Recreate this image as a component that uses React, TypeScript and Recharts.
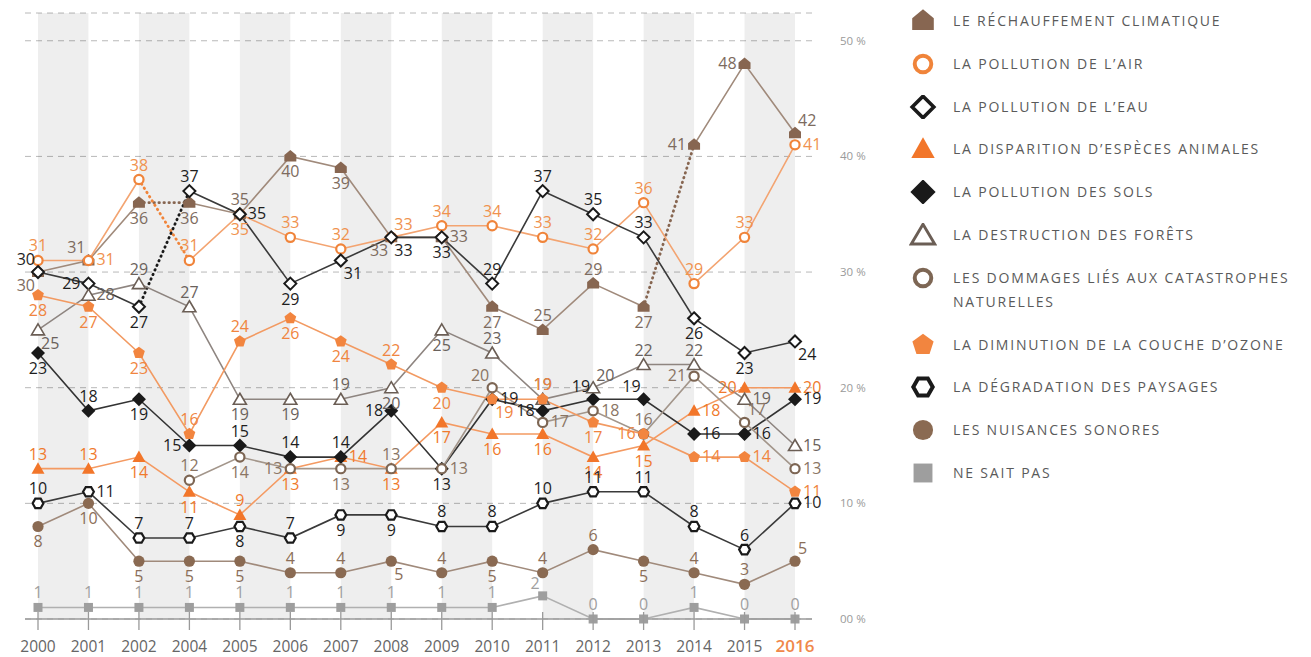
import React from "react";
import { LineChart, Line, XAxis, YAxis, CartesianGrid, ReferenceArea } from "recharts";

// Survey years (2003 missing from the series)
const years = ["2000", "2001", "2002", "2004", "2005", "2006", "2007", "2008", "2009", "2010", "2011", "2012", "2013", "2014", "2015", "2016"];

// Share of answers, in %
const rechauffement = [30, 31, 36, 36, 35, 40, 39, 33, 33, 27, 25, 29, 27, 41, 48, 42];
const pollutionAir = [31, 31, 38, 31, 35, 33, 32, 33, 34, 34, 33, 32, 36, 29, 33, 41];
const pollutionEau = [30, 29, 27, 37, 35, 29, 31, 33, 33, 29, 37, 35, 33, 26, 23, 24];
const especesAnimales = [13, 13, 14, 11, 9, 13, 14, 13, 17, 16, 16, 14, 15, 18, 20, 20];
const pollutionSols = [23, 18, 19, 15, 15, 14, 14, 18, 13, 19, 18, 19, 19, 16, 16, 19];
const destructionForets = [25, 28, 29, 27, 19, 19, 19, 20, 25, 23, 19, 20, 22, 22, 19, 15];
const catastrophes = [null, null, null, 12, 14, 13, 13, 13, 13, 20, 17, 18, 16, 21, 17, 13];
const coucheOzone = [28, 27, 23, 16, 24, 26, 24, 22, 20, 19, 19, 17, 16, 14, 14, 11];
const paysages = [10, 11, 7, 7, 8, 7, 9, 9, 8, 8, 10, 11, 11, 8, 6, 10];
const nuisancesSonores = [8, 10, 5, 5, 5, 4, 4, 5, 4, 5, 4, 6, 5, 4, 3, 5];
const neSaitPas = [1, 1, 1, 1, 1, 1, 1, 1, 1, 1, 2, 0, 0, 1, 0, 0];

const yTicks = [0, 10, 20, 30, 40, 50];

const FONT = "'Open Sans', 'DejaVu Sans', sans-serif";

type Shape = "house" | "ring" | "diamondOpen" | "triangle" | "diamond" | "triangleOpen" | "pentagon" | "hexagonOpen" | "dot" | "square";

interface SeriesDef {
  key: string;
  name: string;
  values: (number | null)[];
  shape: Shape;
  color: string;
  line: string;
  text: string;
  dotted: number[]; // index of the year where a dotted segment starts
  labels: string; // label side for each point
}

const seriesDefs: SeriesDef[] = [
  { key: "rechauffement", name: "LE RÉCHAUFFEMENT CLIMATIQUE", values: rechauffement, shape: "house", color: "#876651", line: "#a08a7b", text: "#7d6b5e", dotted: [2, 12], labels: "BL TL B B T B B BL R B T T B L L TR" },
  { key: "air", name: "LA POLLUTION DE L’AIR", values: pollutionAir, shape: "ring", color: "#f0843a", line: "#f3a471", text: "#f0924e", dotted: [2], labels: "T R T T B T T TR T T T T T T T R" },
  { key: "eau", name: "LA POLLUTION DE L’EAU", values: pollutionEau, shape: "diamondOpen", color: "#1a1a1a", line: "#3a3a3a", text: "#1e1e1e", dotted: [2], labels: "TL L B T R B BR BR B T T T T B B BR" },
  { key: "especes", name: "LA DISPARITION D’ESPÈCES ANIMALES", values: especesAnimales, shape: "triangle", color: "#f2762a", line: "#f49a62", text: "#f07a2c", dotted: [], labels: "T T B B T B R B B B B B B R L R" },
  { key: "sols", name: "LA POLLUTION DES SOLS", values: pollutionSols, shape: "diamond", color: "#1a1a1a", line: "#333333", text: "#1e1e1e", dotted: [], labels: "B T B L T T T L B R L TL TL R R R" },
  { key: "forets", name: "LA DESTRUCTION DES FORÊTS", values: destructionForets, shape: "triangleOpen", color: "#6b5e55", line: "#8e8580", text: "#6a625c", dotted: [], labels: "BR R T T B B T B B T T TR T T R R" },
  { key: "catastrophes", name: "LES DOMMAGES LIÉS AUX CATASTROPHES NATURELLES", values: catastrophes, shape: "ring", color: "#7d6654", line: "#a3968b", text: "#8a7564", dotted: [], labels: "- - - T B L B T R TL R R T L TR R" },
  { key: "ozone", name: "LA DIMINUTION DE LA COUCHE D’OZONE", values: coucheOzone, shape: "pentagon", color: "#f2853f", line: "#f29a62", text: "#f08540", dotted: [], labels: "B B B T T B B T B BR T B L R R R" },
  { key: "paysages", name: "LA DÉGRADATION DES PAYSAGES", values: paysages, shape: "hexagonOpen", color: "#1a1a1a", line: "#3a3a3a", text: "#1e1e1e", dotted: [], labels: "T R T T B T B B T T T T T T T R" },
  { key: "nuisances", name: "LES NUISANCES SONORES", values: nuisancesSonores, shape: "dot", color: "#8a6a52", line: "#a08a7b", text: "#8b6e58", dotted: [], labels: "B B B B B T T BR T B T T B T T TR" },
  { key: "nsp", name: "NE SAIT PAS", values: neSaitPas, shape: "square", color: "#9e9e9e", line: "#b0b0b0", text: "#a0a0a0", dotted: [], labels: "T T T T T T T T T T TL T T T T T" },
];

// split a series into solid / dotted runs
const runsFor = (n: number, dotted: number[]) => {
  const runs: { from: number; to: number; dashed: boolean }[] = [];
  let start = 0;
  for (let i = 0; i < n - 1; i++) {
    if (dotted.includes(i)) {
      if (i > start) runs.push({ from: start, to: i, dashed: false });
      runs.push({ from: i, to: i + 1, dashed: true });
      start = i + 1;
    }
  }
  if (start < n - 1) runs.push({ from: start, to: n - 1, dashed: false });
  return runs;
};

const seriesRuns = seriesDefs.map((def) => runsFor(years.length, def.dotted));

const chartData = years.map((year, i) => {
  const row: Record<string, string | number | null> = { year };
  seriesDefs.forEach((def, s) => {
    row[def.key] = def.values[i];
    seriesRuns[s].forEach((r, j) => {
      row[`${def.key}_${j}`] = i >= r.from && i <= r.to ? def.values[i] : null;
    });
  });
  return row;
});

const poly = (pts: number[][], x: number, y: number, s: number) =>
  pts.map(([px, py]) => `${x + px * s},${y + py * s}`).join(" ");

const regular = (n: number, r: number, rot: number) =>
  Array.from({ length: n }, (_, k) => {
    const a = rot + (k * 2 * Math.PI) / n;
    return [r * Math.cos(a), r * Math.sin(a)];
  });

const Marker = ({ shape, x, y, s, color }: { shape: Shape; x: number; y: number; s: number; color: string }) => {
  switch (shape) {
    case "house":
      return <polygon points={poly([[0, -6.5], [6, -1.5], [6, 5], [-6, 5], [-6, -1.5]], x, y, s)} fill={color} />;
    case "ring":
      return <circle cx={x} cy={y} r={4.6 * s} fill="#fff" stroke={color} strokeWidth={2.2 * s} />;
    case "diamondOpen":
      return <polygon points={poly([[0, -6], [6, 0], [0, 6], [-6, 0]], x, y, s)} fill="#fff" stroke={color} strokeWidth={2 * s} />;
    case "triangle":
      return <polygon points={poly([[0, -6.5], [6.5, 5], [-6.5, 5]], x, y, s)} fill={color} />;
    case "diamond":
      return <polygon points={poly([[0, -7], [7, 0], [0, 7], [-7, 0]], x, y, s)} fill={color} />;
    case "triangleOpen":
      return <polygon points={poly([[0, -6], [6.5, 5], [-6.5, 5]], x, y, s)} fill="#fff" stroke={color} strokeWidth={1.6 * s} />;
    case "pentagon":
      return <polygon points={poly(regular(5, 6.2, -Math.PI / 2), x, y, s)} fill={color} />;
    case "hexagonOpen":
      return <polygon points={poly(regular(6, 5.4, 0), x, y, s)} fill="#fff" stroke={color} strokeWidth={2.2 * s} />;
    case "dot":
      return <circle cx={x} cy={y} r={5.6 * s} fill={color} />;
    case "square":
      return <rect x={x - 4.5 * s} y={y - 4.5 * s} width={9 * s} height={9 * s} fill={color} />;
  }
};

const labelPos = (side: string, x: number, y: number) => {
  switch (side) {
    case "B": return { x, y: y + 21, anchor: "middle" };
    case "L": return { x: x - 8, y: y + 5, anchor: "end" };
    case "R": return { x: x + 8, y: y + 5, anchor: "start" };
    case "TL": return { x: x - 3, y: y - 7, anchor: "end" };
    case "TR": return { x: x + 3, y: y - 7, anchor: "start" };
    case "BL": return { x: x - 3, y: y + 19, anchor: "end" };
    case "BR": return { x: x + 3, y: y + 19, anchor: "start" };
    default: return { x, y: y - 9, anchor: "middle" };
  }
};

const makeMarker = (def: SeriesDef) => (props: any) => {
  const { cx, cy, index } = props;
  const k = `${def.key}-m-${index}`;
  if (def.values[index] == null || cx == null || cy == null) return <g key={k} />;
  return (
    <g key={k}>
      <Marker shape={def.shape} x={cx} y={cy} s={1} color={def.color} />
    </g>
  );
};

const makeLabel = (def: SeriesDef) => {
  const sides = def.labels.split(" ");
  return (props: any) => {
    const { cx, cy, index } = props;
    const k = `${def.key}-l-${index}`;
    const v = def.values[index];
    if (v == null || cx == null || cy == null) return <g key={k} />;
    const p = labelPos(sides[index], cx, cy);
    return (
      <text key={k} x={p.x} y={p.y} textAnchor={p.anchor as any} fontSize={16} fontFamily={FONT} fill={def.text}>
        {v}
      </text>
    );
  };
};

const YearTick = (props: any) => {
  const { x, y, payload } = props;
  const last = payload.value === "2016";
  return (
    <g>
      <line x1={x} x2={x} y1={y - 7} y2={y + 11} stroke="#9a9a9a" strokeWidth={1.3} />
      <text x={x} y={y + 33} textAnchor="middle" fontSize={last ? 17 : 15.5} fontWeight={last ? 600 : 400} fontFamily={FONT} fill={last ? "#f0884a" : "#666"}>
        {payload.value}
      </text>
    </g>
  );
};

const bandPairs = [0, 2, 4, 6, 8, 10, 12, 14].map((i) => [years[i], years[i + 1]]);

const App: React.FC = () => (
  <div style={{ position: "absolute", left: 0, top: 0, width: 1311, height: 657, background: "#fff", fontFamily: FONT }}>
    <LineChart width={870} height={657} data={chartData} margin={{ top: 13, right: 8, bottom: 0, left: 25 }}>
      {bandPairs.map(([a, b]) => (
        <ReferenceArea key={a} x1={a} x2={b} fill="#000" fillOpacity={0.065} stroke="none" />
      ))}
      <CartesianGrid vertical={false} stroke="#b8b8b8" strokeDasharray="6 5" />
      <XAxis
        dataKey="year"
        height={38}
        padding={{ left: 13, right: 17 }}
        interval={0}
        tickSize={0}
        tickMargin={0}
        tick={<YearTick />}
        axisLine={{ stroke: "#9a9a9a", strokeWidth: 1.5 }}
        tickLine={false}
      />
      <YAxis
        orientation="right"
        width={50}
        domain={[0, 52.4]}
        ticks={yTicks}
        tickSize={0}
        tickMargin={28}
        axisLine={false}
        tickLine={false}
        tick={{ fill: "#9a9a9a", fontSize: 11.5, fontFamily: FONT }}
        tickFormatter={(v: number) => (v === 0 ? "00 %" : `${v} %`)}
      />
      {seriesDefs.map((def, s) =>
        seriesRuns[s].map((r, j) => (
          <Line
            key={`${def.key}_${j}`}
            dataKey={`${def.key}_${j}`}
            stroke={r.dashed ? def.color : def.line}
            strokeWidth={r.dashed ? 2.8 : 1.6}
            strokeDasharray={r.dashed ? "0.5 4.5" : undefined}
            strokeLinecap={r.dashed ? "round" : "butt"}
            dot={false}
            activeDot={false}
            isAnimationActive={false}
            connectNulls={false}
          />
        ))
      )}
      {seriesDefs.map((def) => (
        <Line key={`${def.key}-markers`} dataKey={def.key} stroke="none" dot={makeMarker(def)} activeDot={false} isAnimationActive={false} />
      ))}
      {seriesDefs.map((def) => (
        <Line key={`${def.key}-labels`} dataKey={def.key} stroke="none" dot={makeLabel(def)} activeDot={false} isAnimationActive={false} />
      ))}
    </LineChart>
    <div style={{ position: "absolute", left: 909, top: 9, display: "flex", flexDirection: "column", gap: 18.8 }}>
      {seriesDefs.map((def) => (
        <div key={def.key} style={{ display: "flex", alignItems: "flex-start" }}>
          <svg width={28} height={24} style={{ flex: "none" }}>
            <Marker shape={def.shape} x={14} y={12} s={def.shape === "square" ? 2.1 : 1.8} color={def.color} />
          </svg>
          <div style={{ marginLeft: 16, width: 370, fontSize: 14, lineHeight: "24px", letterSpacing: 1.8, color: "#5a5a5a" }}>
            {def.key === "catastrophes" ? (
              <>
                LES DOMMAGES LIÉS AUX CATASTROPHES
                <br />
                NATURELLES
              </>
            ) : (
              def.name
            )}
          </div>
        </div>
      ))}
    </div>
  </div>
);

export default App;
